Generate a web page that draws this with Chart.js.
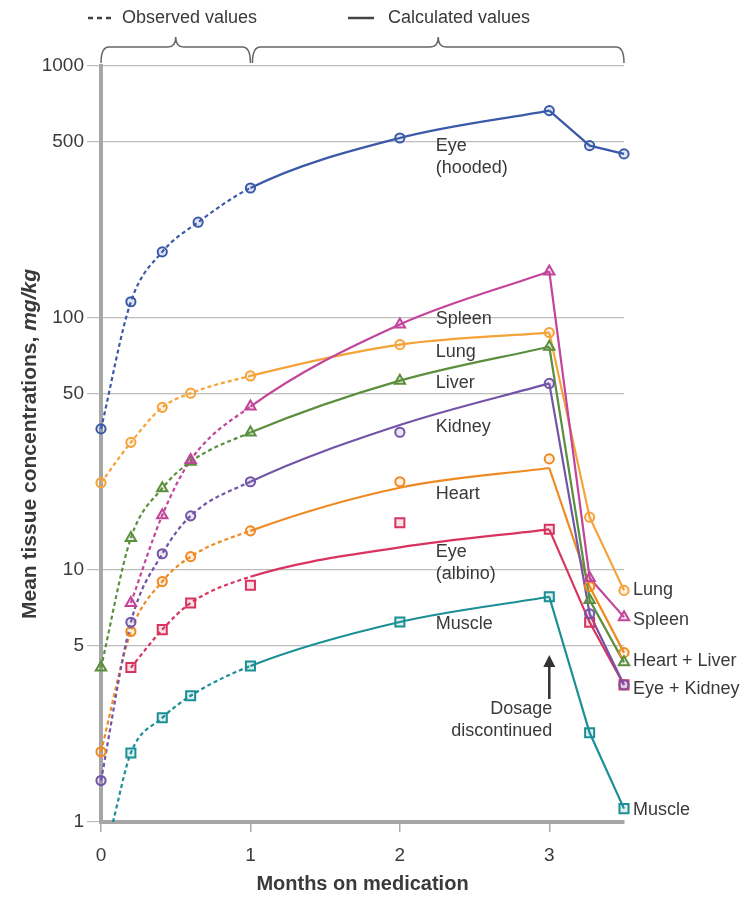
<!DOCTYPE html>
<html>
<head>
<meta charset="utf-8">
<script src="https://cdn.jsdelivr.net/npm/chart.js@4.4.1/dist/chart.umd.min.js"></script>
<style>
  html, body { margin: 0; padding: 0; background: #fff; }
  #wrap { width: 749px; height: 899px; }
</style>
</head>
<body>
<div id="wrap"><canvas id="g-tejidos"></canvas></div>
<script>
// ticks
var xTicks = [0, 1, 2, 3];
var yTicks = [1, 5, 10, 50, 100, 500, 1000];

// observed values (markers): [month, mg/kg]
var eyeHoodedObs = [[0, 36.3], [0.2, 116], [0.41, 183], [0.65, 240], [1, 328], [2, 518], [3, 665], [3.27, 483], [3.5, 448]];
var spleenObs    = [[0.2, 7.4], [0.41, 16.5], [0.6, 27.3], [1, 44.5], [2, 94.3], [3, 153], [3.27, 9.3], [3.5, 6.5]];
var lungObs      = [[0, 22.2], [0.2, 32.1], [0.41, 44.2], [0.6, 50.3], [1, 58.9], [2, 78.4], [3, 87.5], [3.27, 16.2], [3.5, 8.3]];
var liverObs     = [[0, 4.1], [0.2, 13.4], [0.41, 21.1], [0.6, 26.9], [1, 35.1], [2, 56.4], [3, 76.9], [3.27, 7.6], [3.5, 4.3]];
var kidneyObs    = [[0, 1.46], [0.2, 6.2], [0.41, 11.6], [0.6, 16.4], [1, 22.4], [2, 35.2], [3, 55], [3.27, 6.7], [3.5, 3.5]];
var heartObs     = [[0, 1.9], [0.2, 5.7], [0.41, 9.0], [0.6, 11.3], [1, 14.3], [2, 22.4], [3, 27.6], [3.27, 8.6], [3.5, 4.7]];
var albinoObs    = [[0.2, 4.1], [0.41, 5.8], [0.6, 7.4], [1, 8.7], [2, 15.4], [3, 14.5], [3.27, 6.2], [3.5, 3.5]];
var muscleObs    = [[0.2, 1.88], [0.41, 2.59], [0.6, 3.17], [1, 4.16], [2, 6.22], [3, 7.83], [3.27, 2.26], [3.5, 1.13]];

// calculated curves while on medication (dashed up to month 1)
var eyeHoodedRise = [[0, 36.3], [0.2, 116], [0.41, 183], [0.65, 240], [1, 328], [2, 518], [3, 665]];
var spleenRise    = [[0.2, 7.4], [0.41, 16.5], [0.6, 27.3], [1, 44.5], [2, 94.3], [3, 153]];
var lungRise      = [[0, 22.2], [0.2, 32.1], [0.41, 44.2], [0.6, 50.3], [1, 58.9], [2, 78.4], [3, 87.5]];
var liverRise     = [[0, 4.1], [0.2, 13.4], [0.41, 21.1], [0.6, 26.9], [1, 35.1], [2, 56.4], [3, 76.9]];
var kidneyRise    = [[0, 1.46], [0.2, 6.2], [0.41, 11.6], [0.6, 16.4], [1, 22.4], [2, 37.6], [3, 55]];
var heartRise     = [[0, 1.9], [0.2, 5.7], [0.41, 9.0], [0.6, 11.3], [1, 14.3], [2, 21.2], [3, 25.4]];
var albinoRise    = [[0.2, 4.1], [0.41, 5.8], [0.6, 7.4], [1, 9.4], [2, 12.3], [3, 14.5]];
var muscleRise    = [[0.08, 1.0], [0.2, 1.88], [0.41, 2.59], [0.6, 3.17], [1, 4.16], [2, 6.22], [3, 7.83]];

// after dosage discontinued
var eyeHoodedFall = [[3, 665], [3.27, 483], [3.5, 448]];
var spleenFall    = [[3, 153], [3.27, 9.3], [3.5, 6.5]];
var lungFall      = [[3, 87.5], [3.27, 16.2], [3.5, 8.3]];
var liverFall     = [[3, 76.9], [3.27, 7.6], [3.5, 4.3]];
var kidneyFall    = [[3, 55], [3.27, 6.7], [3.5, 3.5]];
var heartFall     = [[3, 25.4], [3.27, 8.6], [3.5, 4.7]];
var albinoFall    = [[3, 14.5], [3.27, 6.2], [3.5, 3.5]];
var muscleFall    = [[3, 7.83], [3.27, 2.26], [3.5, 1.13]];

var inlineLabels = [
  {text: ['Eye', '(hooded)'], y: 482},
  {text: ['Spleen'], y: 99},
  {text: ['Lung'], y: 73.3},
  {text: ['Liver'], y: 55.3},
  {text: ['Kidney'], y: 36.9},
  {text: ['Heart'], y: 20.0},
  {text: ['Eye', '(albino)'], y: 11.8},
  {text: ['Muscle'], y: 6.1}
];
var endLabels = [
  {text: 'Lung', y: 8.33},
  {text: 'Spleen', y: 6.33},
  {text: 'Heart + Liver', y: 4.35},
  {text: 'Eye + Kidney', y: 3.37},
  {text: 'Muscle', y: 1.12}
];

function pts(arr) {
  return arr.map(function (p) { return {x: p[0], y: p[1]}; });
}

function curva(arr, color, smooth) {
  return {
    data: pts(arr),
    borderColor: color,
    borderWidth: 2.2,
    pointRadius: 0,
    fill: false,
    cubicInterpolationMode: smooth ? 'monotone' : 'default',
    tension: 0,
    clip: false,
    order: 2,
    segment: {
      borderDash: function (ctx) { return ctx.p1.parsed.x <= 1.001 ? [4, 3] : undefined; }
    }
  };
}

function marcas(arr, color, style) {
  var r = style === 'circle' ? 4.6 : (style === 'rect' ? 6.4 : 6);
  return {
    data: pts(arr),
    showLine: false,
    pointStyle: style,
    pointRadius: r,
    pointBorderColor: color,
    pointBackgroundColor: color + '26',
    pointBorderWidth: 2,
    clip: false,
    order: 1
  };
}

var tejidos = [
  [eyeHoodedRise, eyeHoodedFall, eyeHoodedObs, '#3a5aa8', 'circle'],
  [spleenRise, spleenFall, spleenObs, '#c2449b', 'triangle'],
  [lungRise, lungFall, lungObs, '#f4a33a', 'circle'],
  [liverRise, liverFall, liverObs, '#5b8f3e', 'triangle'],
  [kidneyRise, kidneyFall, kidneyObs, '#7254a8', 'circle'],
  [heartRise, heartFall, heartObs, '#ef8a22', 'circle'],
  [albinoRise, albinoFall, albinoObs, '#d8345f', 'rect'],
  [muscleRise, muscleFall, muscleObs, '#1b8f96', 'rect']
];

var datasets = [];
tejidos.forEach(function (t) {
  datasets.push(curva(t[0], t[3], true));
  datasets.push(curva(t[1], t[3], false));
  datasets.push(marcas(t[2], t[3], t[4]));
});

var textColor = '#3a3a3a';
var fontFam = '"Liberation Sans", Arial, sans-serif';

var anotaciones = {
  id: 'anotaciones',
  afterDraw: function (chart) {
    var ctx = chart.ctx;
    var xs = chart.scales.x, ys = chart.scales.y;
    var area = chart.chartArea;
    ctx.save();
    ctx.fillStyle = textColor;
    ctx.textBaseline = 'middle';

    // y title with italic unit
    ctx.save();
    ctx.translate(30, (area.top + area.bottom) / 2);
    ctx.rotate(-Math.PI / 2);
    var t1 = 'Mean tissue concentrations, ', t2 = 'mg/kg';
    ctx.font = 'bold 21px ' + fontFam;
    var w1 = ctx.measureText(t1).width;
    ctx.font = 'italic bold 21px ' + fontFam;
    var w2 = ctx.measureText(t2).width;
    ctx.textAlign = 'left';
    ctx.font = 'bold 21px ' + fontFam;
    ctx.fillText(t1, -(w1 + w2) / 2, 0);
    ctx.font = 'italic bold 21px ' + fontFam;
    ctx.fillText(t2, -(w1 + w2) / 2 + w1, 0);
    ctx.restore();

    // x title
    ctx.font = 'bold 20px ' + fontFam;
    ctx.textAlign = 'center';
    ctx.fillText('Months on medication', (area.left + area.right) / 2, 884);

    // header legend
    ctx.font = '18px ' + fontFam;
    ctx.textAlign = 'left';
    ctx.fillText('Observed values', 122, 18);
    ctx.fillText('Calculated values', 388, 18);
    ctx.strokeStyle = '#444';
    ctx.lineWidth = 2.5;
    ctx.setLineDash([5, 4]);
    ctx.beginPath(); ctx.moveTo(88, 18); ctx.lineTo(115, 18); ctx.stroke();
    ctx.setLineDash([]);
    ctx.beginPath(); ctx.moveTo(348, 18); ctx.lineTo(374, 18); ctx.stroke();

    // brackets
    function llave(a, b) {
      var m = (a + b) / 2, yl = 47, yb = 63, yp = 37, r = 8;
      ctx.beginPath();
      ctx.moveTo(a, yb);
      ctx.quadraticCurveTo(a, yl, a + r, yl);
      ctx.lineTo(m - r, yl);
      ctx.quadraticCurveTo(m, yl, m, yp);
      ctx.quadraticCurveTo(m, yl, m + r, yl);
      ctx.lineTo(b - r, yl);
      ctx.quadraticCurveTo(b, yl, b, yb);
      ctx.stroke();
    }
    ctx.strokeStyle = '#666';
    ctx.lineWidth = 1.5;
    llave(xs.getPixelForValue(0), xs.getPixelForValue(1));
    llave(xs.getPixelForValue(1) + 2, xs.getPixelForValue(3.5));

    // inline tissue labels
    ctx.font = '18px ' + fontFam;
    ctx.textAlign = 'left';
    var lx = xs.getPixelForValue(2.24);
    inlineLabels.forEach(function (l) {
      var y0 = ys.getPixelForValue(l.y);
      l.text.forEach(function (s, i) { ctx.fillText(s, lx, y0 + i * 22); });
    });

    // end labels
    var ex = xs.getPixelForValue(3.5) + 9;
    endLabels.forEach(function (l) {
      ctx.fillText(l.text, ex, ys.getPixelForValue(l.y));
    });

    // dosage arrow
    var ax = xs.getPixelForValue(3);
    var tip = ys.getPixelForValue(4.6);
    ctx.strokeStyle = '#333';
    ctx.fillStyle = '#333';
    ctx.lineWidth = 2.5;
    ctx.beginPath(); ctx.moveTo(ax, tip + 44); ctx.lineTo(ax, tip + 8); ctx.stroke();
    ctx.beginPath();
    ctx.moveTo(ax, tip); ctx.lineTo(ax - 6, tip + 12); ctx.lineTo(ax + 6, tip + 12); ctx.closePath();
    ctx.fill();
    ctx.fillStyle = textColor;
    ctx.textAlign = 'right';
    ctx.fillText('Dosage', ax + 3, tip + 54);
    ctx.fillText('discontinued', ax + 3, tip + 76);

    ctx.restore();
  }
};

var idhtml = document.getElementById('g-tejidos').getContext('2d');
var g_tejidos = new Chart(idhtml, {
  type: 'line',
  data: { datasets: datasets },
  options: {
    responsive: true,
    maintainAspectRatio: false,
    animation: false,
    layout: { padding: { top: 66, right: 125, bottom: 0, left: 0 } },
    plugins: { legend: { display: false }, tooltip: { enabled: false } },
    scales: {
      x: {
        type: 'linear',
        min: 0,
        max: 3.5,
        afterBuildTicks: function (scale) { scale.ticks = xTicks.map(function (v) { return {value: v}; }); },
        afterFit: function (scale) { scale.height = 77; },
        ticks: { color: textColor, font: { size: 19, family: fontFam }, padding: 12 },
        grid: { drawOnChartArea: false, drawTicks: true, tickLength: 10, color: '#aaa', lineWidth: 1.5 },
        border: { display: true, color: '#a6a6a6', width: 4 }
      },
      y: {
        type: 'logarithmic',
        min: 1,
        max: 1000,
        afterBuildTicks: function (scale) { scale.ticks = yTicks.map(function (v) { return {value: v}; }); },
        afterFit: function (scale) { scale.width = 101; },
        ticks: { color: textColor, font: { size: 19, family: fontFam }, padding: 3,
                 callback: function (v) { return String(v); } },
        grid: { color: '#bdbdbd', lineWidth: 1.2, tickLength: 14 },
        border: { display: true, color: '#a6a6a6', width: 4 }
      }
    }
  },
  plugins: [anotaciones]
});
</script>
</body>
</html>
